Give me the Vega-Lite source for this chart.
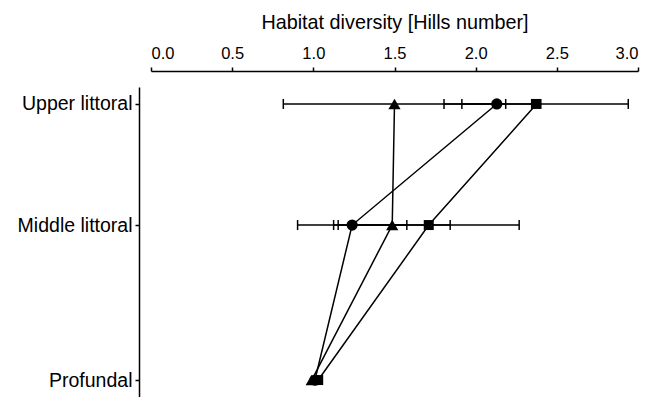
{
  "$schema": "https://vega.github.io/schema/vega-lite/v6.json",
  "width": 487,
  "height": 310,
  "autosize": {"type": "none"},
  "padding": {"left": 151, "top": 87, "right": 13, "bottom": 0},
  "background": "white",
  "config": {
    "view": {"stroke": null},
    "font": "Liberation Sans",
    "axis": {
      "grid": false,
      "domainColor": "black",
      "tickColor": "black",
      "labelColor": "black",
      "titleColor": "black",
      "labelFont": "Liberation Sans",
      "titleFont": "Liberation Sans",
      "titleFontWeight": "normal",
      "domainWidth": 1.5,
      "tickWidth": 1.5
    }
  },
  "data": {
    "values": [
      {"zone": "Upper littoral", "depth": 1, "series": "triangle", "mean": 1.5, "lo": 0.815, "hi": 2.185},
      {"zone": "Upper littoral", "depth": 1, "series": "circle", "mean": 2.13, "lo": 1.915, "hi": 2.345},
      {"zone": "Upper littoral", "depth": 1, "series": "square", "mean": 2.375, "lo": 1.805, "hi": 2.94},
      {"zone": "Middle littoral", "depth": 2, "series": "triangle", "mean": 1.486, "lo": 1.125, "hi": 1.843},
      {"zone": "Middle littoral", "depth": 2, "series": "circle", "mean": 1.239, "lo": 0.903, "hi": 1.576},
      {"zone": "Middle littoral", "depth": 2, "series": "square", "mean": 1.711, "lo": 1.153, "hi": 2.268},
      {"zone": "Profundal", "depth": 3.28, "series": "triangle", "mean": 0.99, "lo": null, "hi": null},
      {"zone": "Profundal", "depth": 3.28, "series": "circle", "mean": 1.01, "lo": null, "hi": null},
      {"zone": "Profundal", "depth": 3.28, "series": "square", "mean": 1.03, "lo": null, "hi": null}
    ]
  },
  "encoding": {
    "y": {
      "field": "depth",
      "type": "quantitative",
      "scale": {"domain": [0.86, 3.42], "reverse": true, "nice": false, "zero": false},
      "axis": {
        "title": null,
        "values": [1, 2, 3.28],
        "labelExpr": "datum.value == 1 ? 'Upper littoral' : datum.value == 2 ? 'Middle littoral' : 'Profundal'",
        "labelFontSize": 19.5,
        "tickSize": 4,
        "offset": 12,
        "labelPadding": 3
      }
    }
  },
  "layer": [
    {
      "mark": {"type": "line", "color": "black", "strokeWidth": 1.5},
      "encoding": {
        "x": {
          "field": "mean",
          "type": "quantitative",
          "scale": {"domain": [0, 3], "nice": false},
          "axis": {
            "orient": "top",
            "title": "Habitat diversity [Hills number]",
            "values": [0, 0.5, 1, 1.5, 2, 2.5, 3],
            "format": ".1f",
            "offset": 16,
            "tickSize": 4,
            "labelFontSize": 16.5,
            "labelPadding": 6,
            "titleFontSize": 19.8,
            "titlePadding": 13
          }
        },
        "detail": {"field": "series"},
        "order": {"field": "depth", "type": "quantitative"}
      }
    },
    {
      "transform": [{"filter": "datum.lo != null"}],
      "mark": {"type": "rule", "color": "black", "strokeWidth": 1.5},
      "encoding": {
        "x": {"field": "lo", "type": "quantitative", "title": "Habitat diversity [Hills number]"},
        "x2": {"field": "hi"}
      }
    },
    {
      "transform": [
        {"filter": "datum.lo != null"},
        {"fold": ["lo", "hi"], "as": ["end", "val"]}
      ],
      "mark": {"type": "point", "shape": "M0,-1L0,1", "size": 100, "filled": false, "stroke": "black", "strokeWidth": 1.5, "opacity": 1},
      "encoding": {
        "x": {"field": "val", "type": "quantitative", "title": "Habitat diversity [Hills number]"}
      }
    },
    {
      "mark": {"type": "point", "filled": true, "color": "black", "opacity": 1},
      "encoding": {
        "x": {"field": "mean", "type": "quantitative", "title": "Habitat diversity [Hills number]"},
        "shape": {
          "field": "series",
          "type": "nominal",
          "scale": {"domain": ["triangle", "circle", "square"], "range": ["triangle-up", "circle", "square"]},
          "legend": null
        },
        "size": {
          "field": "series",
          "type": "nominal",
          "scale": {"domain": ["triangle", "circle", "square"], "range": [150, 100, 130]},
          "legend": null
        }
      }
    }
  ]
}
